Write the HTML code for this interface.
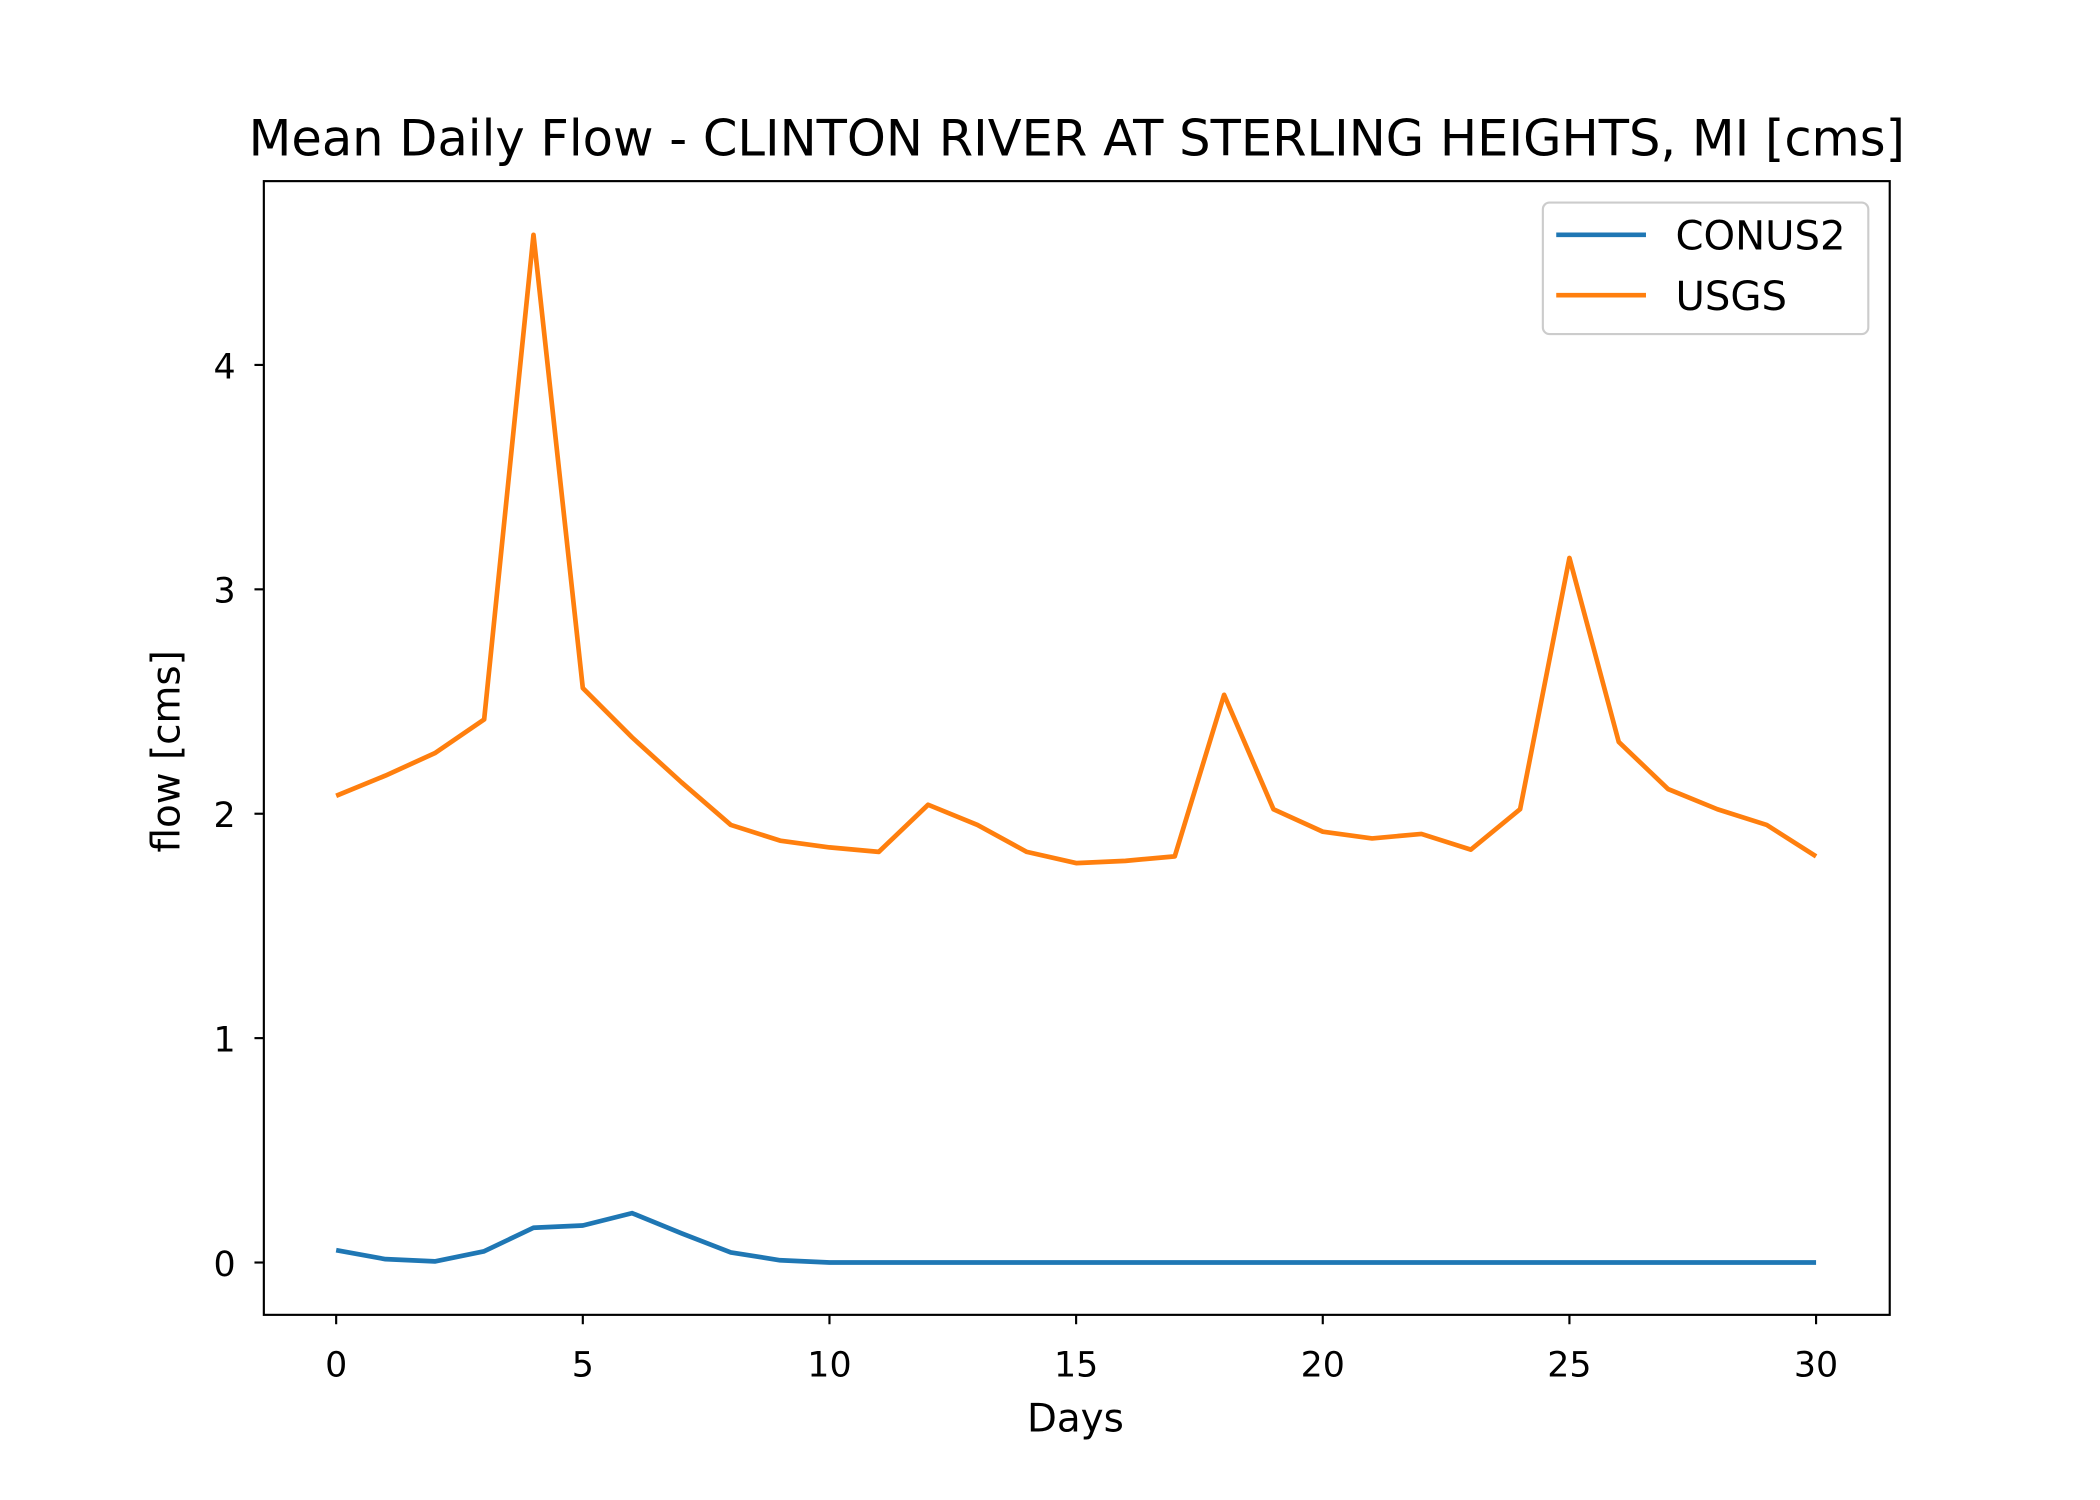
<!DOCTYPE html>
<html><head><meta charset="utf-8"><style>
html,body{margin:0;padding:0;background:#fff;}
svg{display:block;}
text{font-family:"DejaVu Sans","Liberation Sans",sans-serif;fill:#000;}
</style></head><body>
<svg id="chart" width="2100" height="1500" viewBox="0 0 1568 1118" preserveAspectRatio="none" xmlns="http://www.w3.org/2000/svg">
<rect width="1568" height="1118" fill="#fff"/>
<text x="804" y="116" font-size="37" text-anchor="middle">Mean Daily Flow - CLINTON RIVER AT STERLING HEIGHTS, MI [cms]</text>
<g id="marks"></g>
<g id="axes"></g>
<text x="803" y="1067" font-size="29" text-anchor="middle">Days</text>
<text x="0" y="0" font-size="29" text-anchor="middle" transform="translate(134,560) rotate(-90)">flow [cms]</text>
<rect x="197" y="135" width="1214" height="845" fill="none" stroke="#000" stroke-width="1.6"/>
<g>
<rect x="1152" y="151" width="243" height="98" rx="5" fill="#fff" stroke="#ccc" stroke-width="1.6"/>
<line x1="1162" y1="175" x2="1229" y2="175" stroke="#1f77b4" stroke-width="3.5"/>
<text x="1251" y="186" font-size="30">CONUS2</text>
<line x1="1162" y1="220" x2="1229" y2="220" stroke="#ff7f0e" stroke-width="3.5"/>
<text x="1251" y="231" font-size="30">USGS</text>
</g>
</svg>
<script>
const days = Array.from({length:31},(_,i)=>i);
const usgs = [2.08,2.17,2.27,2.42,4.58,2.56,2.34,2.14,1.95,1.88,1.85,1.83,2.04,1.95,1.83,1.78,1.79,1.81,2.53,2.02,1.92,1.89,1.91,1.84,2.02,3.14,2.32,2.11,2.02,1.95,1.81];
const conus2 = [0.055,0.015,0.005,0.05,0.155,0.165,0.22,0.13,0.045,0.01,0,0,0,0,0,0,0,0,0,0,0,0,0,0,0,0,0,0,0,0,0];
const xTicks = [0,5,10,15,20,25,30];
const yTicks = [0,1,2,3,4];

const NS="http://www.w3.org/2000/svg";
const xs = d => 251 + d*(1356-251)/30;
const ys = v => 941 - v*(941-272)/4;
const marks=document.getElementById('marks'), axes=document.getElementById('axes');
function line(series,color,name){
  const p=document.createElementNS(NS,'polyline');
  p.setAttribute('points',series.map((v,i)=>xs(days[i])+','+ys(v)).join(' '));
  p.setAttribute('fill','none');p.setAttribute('stroke',color);p.setAttribute('stroke-width','3.5');
  p.setAttribute('stroke-linejoin','round');
  
  
  marks.appendChild(p);
}
line(conus2,'#1f77b4','conus2-line');
line(usgs,'#ff7f0e','usgs-line');
xTicks.forEach(t=>{
  const l=document.createElementNS(NS,'line');
  l.setAttribute('x1',xs(t));l.setAttribute('x2',xs(t));l.setAttribute('y1',980);l.setAttribute('y2',987);
  l.setAttribute('stroke','#000');l.setAttribute('stroke-width','1.6');
  
  
  axes.appendChild(l);
  const tx=document.createElementNS(NS,'text');
  tx.setAttribute('x',xs(t));tx.setAttribute('y',1026);tx.setAttribute('font-size','26');tx.setAttribute('text-anchor','middle');
  tx.textContent=t;
  
  
  axes.appendChild(tx);
});
yTicks.forEach(t=>{
  const l=document.createElementNS(NS,'line');
  l.setAttribute('x1',190);l.setAttribute('x2',197);l.setAttribute('y1',ys(t));l.setAttribute('y2',ys(t));
  l.setAttribute('stroke','#000');l.setAttribute('stroke-width','1.6');
  
  
  axes.appendChild(l);
  const tx=document.createElementNS(NS,'text');
  tx.setAttribute('x',176);tx.setAttribute('y',ys(t)+10);tx.setAttribute('font-size','26');tx.setAttribute('text-anchor','end');
  tx.textContent=t;
  
  
  axes.appendChild(tx);
});
</script>
</body></html>
